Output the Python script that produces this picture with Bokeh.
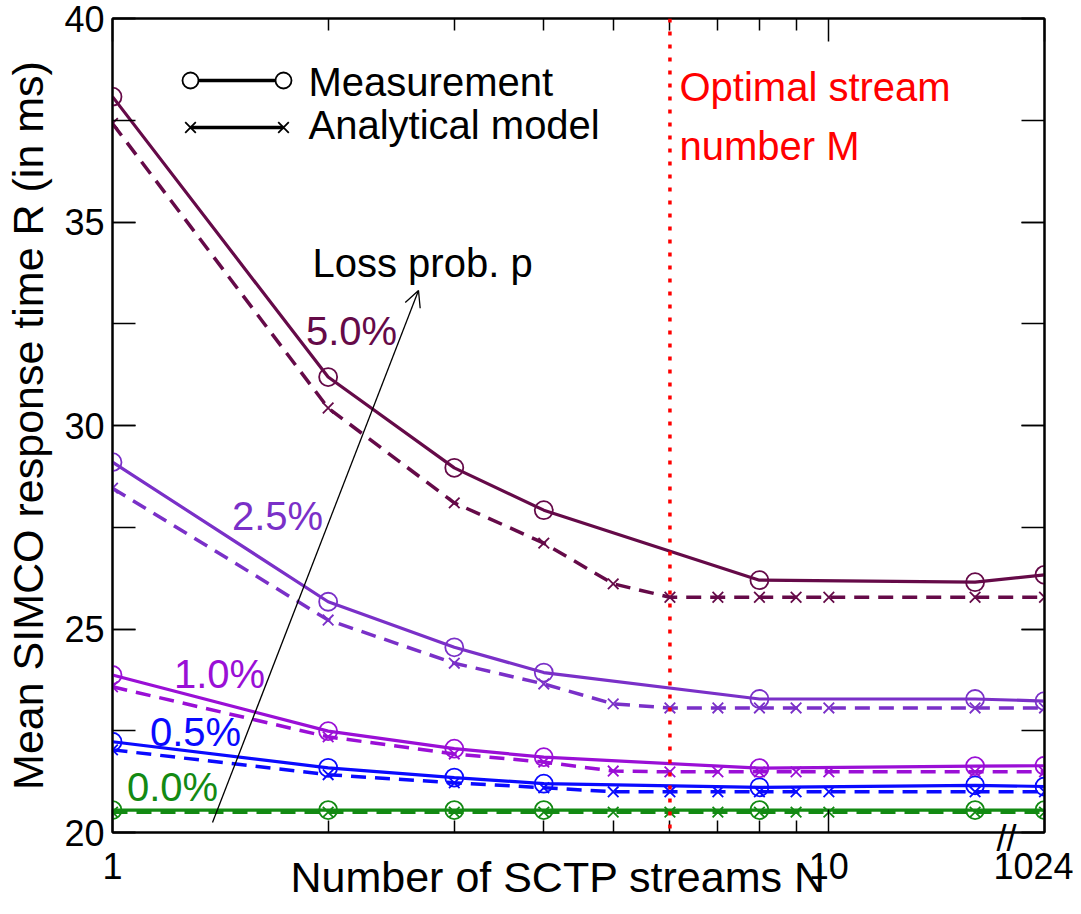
import math
from bokeh.plotting import figure
from bokeh.models import (Range1d, FixedTicker, SingleIntervalTicker, LinearAxis, LogAxis,
                          Span, Label, Arrow, OpenHead, Title)
from bokeh.embed import file_html
from bokeh.resources import INLINE

# ---------------- data ----------------
meas_N = [1, 2, 3, 4, 8, 16, 1024]
model_N = [1, 2, 3, 4, 5, 6, 7, 8, 9, 10, 16, 1024]

loss_labels = ["0.0%", "0.5%", "1.0%", "2.5%", "5.0%"]
colors = ["#138a13", "#0a0aff", "#9a0fd6", "#7a30c8", "#650a48"]

meas_00 = [20.55, 20.55, 20.55, 20.55, 20.55, 20.55, 20.55]
model_00 = [20.50, 20.50, 20.50, 20.50, 20.50, 20.50, 20.50, 20.50, 20.50, 20.50, 20.50, 20.50]
meas_05 = [22.23, 21.59, 21.35, 21.20, 21.11, 21.16, 21.13]
model_05 = [22.03, 21.42, 21.22, 21.10, 21.00, 21.00, 21.00, 21.00, 21.00, 21.00, 21.00, 21.00]
meas_10 = [23.87, 22.49, 22.06, 21.85, 21.58, 21.63, 21.64]
model_10 = [23.58, 22.35, 21.93, 21.73, 21.51, 21.49, 21.49, 21.49, 21.49, 21.49, 21.49, 21.49]
meas_25 = [29.10, 25.67, 24.55, 23.93, 23.28, 23.28, 23.23]
model_25 = [28.46, 25.22, 24.16, 23.65, 23.16, 23.06, 23.06, 23.06, 23.06, 23.06, 23.06, 23.06]
meas_50 = [38.08, 31.19, 28.96, 27.92, 26.20, 26.15, 26.33]
model_50 = [37.42, 30.43, 28.10, 27.11, 26.11, 25.78, 25.78, 25.78, 25.78, 25.78, 25.78, 25.78]

meas_series = [meas_00, meas_05, meas_10, meas_25, meas_50]
model_series = [model_00, model_05, model_10, model_25, model_50]

M_OPT = 6
x_tick_values = [1, 10, 1024]
x_tick_labels = ["1", "10", "1024"]
x_minor = [2, 3, 4, 5, 6, 7, 8, 9]

# ---------------- layout helpers ----------------
BREAK_POS = 20.0          # display position of N=1024 (broken axis)
X_MAX = 20.0
FRAME_L, FRAME_T, FRAME_W, FRAME_H = 112, 18, 932, 814   # reference pixels


def xpos(n):
    return n if n <= 16 else BREAK_POS


def px_x(px):
    return 10 ** ((px - FRAME_L) / FRAME_W * math.log10(X_MAX))


def px_y(py):
    return 40 - (py - FRAME_T) / FRAME_H * 20


FONT = "Liberation Sans"

p = figure(x_axis_type="log", x_range=Range1d(1, X_MAX), y_range=Range1d(20, 40),
           frame_width=FRAME_W, frame_height=FRAME_H,
           min_border_left=FRAME_L, min_border_top=FRAME_T,
           min_border_right=29, min_border_bottom=80,
           output_backend="svg", toolbar_location=None)
p.grid.visible = False
p.outline_line_color = "black"
p.outline_line_width = 2
p.background_fill_color = "white"
p.border_fill_color = "white"

xt = FixedTicker(ticks=[xpos(v) for v in x_tick_values], minor_ticks=x_minor)
yt = SingleIntervalTicker(interval=5, num_minor_ticks=2)

xa = p.xaxis[0]
xa.ticker = xt
xa.major_label_overrides = {xpos(v): l for v, l in zip(x_tick_values, x_tick_labels)}
ya = p.yaxis[0]
ya.ticker = yt
ya.axis_label = "Mean SIMCO response time R (in ms)"

for ax in (xa, ya):
    ax.axis_line_width = 2
    ax.major_tick_in = 23
    ax.major_tick_out = 0
    ax.major_tick_line_width = 1.5
    ax.minor_tick_line_width = 1.5
    ax.minor_tick_out = 0
    ax.major_label_text_font = FONT
    ax.major_label_text_font_size = "36px"
    ax.major_label_text_color = "black"
    ax.axis_label_text_font = FONT
    ax.axis_label_text_font_size = "43px"
    ax.axis_label_text_font_style = "normal"
    ax.axis_label_text_color = "black"
xa.minor_tick_in = 12
ya.minor_tick_in = 23
xa.major_label_standoff = 20
ya.major_label_standoff = 8
ya.axis_label_standoff = 9

top = LogAxis(ticker=xt, major_tick_in=23, major_tick_out=0, minor_tick_in=12, minor_tick_out=0,
              major_label_text_font_size="1px", major_label_text_color=None, major_label_standoff=0,
              axis_line_width=2, major_tick_line_width=1.5, minor_tick_line_width=1.5)
right = LinearAxis(ticker=yt, major_tick_in=23, major_tick_out=0, minor_tick_in=23, minor_tick_out=0,
                   major_label_text_font_size="1px", major_label_text_color=None, major_label_standoff=0,
                   axis_line_width=2, major_tick_line_width=1.5, minor_tick_line_width=1.5)
p.add_layout(top, "above")
p.add_layout(right, "right")

# x-axis title, placed as in the reference (left of the frame centre)
xtitle = Title(text="Number of SCTP streams N", align="left", offset=178, vertical_align="top",
               standoff=-58, text_font=FONT, text_font_size="43px", text_font_style="normal",
               text_color="black")
# axis-break marker: last panel, pulled up so that it crosses the axis line
brk = Title(text="//", align="left", offset=884, vertical_align="top", standoff=-128,
            text_font=FONT, text_font_size="36px", text_font_style="normal", text_color="black")
p.below = list(p.below) + [xtitle, brk]

# optimal stream line
p.add_layout(Span(location=M_OPT, dimension="height", line_color="red",
                  line_dash="4 9", line_width=3.5))

# series
mx = [xpos(n) for n in meas_N]
ax_ = [xpos(n) for n in model_N]
for col, ms, md in zip(colors, meas_series, model_series):
    p.line(ax_, md, line_color=col, line_width=3.5, line_dash="15 9")
    p.scatter(ax_, md, marker="x", size=15, line_color=col, line_width=1.8)
    p.line(mx, ms, line_color=col, line_width=3.2)
    p.scatter(mx, ms, marker="circle", size=18, fill_color=None, line_color=col, line_width=1.8)

# series labels
label_pos = [(172, 786), (195, 731), (219, 673), (277, 515), (351, 330)]
for txt, col, (lx, ly) in zip(loss_labels, colors, label_pos):
    p.add_layout(Label(x=px_x(lx), y=px_y(ly), text=txt, text_color=col, text_font=FONT,
                       text_font_size="40px", text_align="center", text_baseline="middle"))

# legend (drawn by hand: markers at both ends of the key line)
lg_x = [px_x(190), px_x(283)]
p.line(lg_x, [px_y(80)] * 2, line_color="black", line_width=3.5)
p.scatter(lg_x, [px_y(80)] * 2, marker="circle", size=16, fill_color="white", line_color="black", line_width=1.8)
p.line(lg_x, [px_y(127)] * 2, line_color="black", line_width=3.5)
p.scatter(lg_x, [px_y(127)] * 2, marker="x", size=15, line_color="black", line_width=1.8)
p.add_layout(Label(x=px_x(308), y=px_y(81), text="Measurement", text_font=FONT, text_font_size="40px",
                   text_color="black", text_baseline="middle"))
p.add_layout(Label(x=px_x(308), y=px_y(124), text="Analytical model", text_font=FONT, text_font_size="40px",
                   text_color="black", text_baseline="middle"))

# loss probability arrow
p.add_layout(Arrow(end=OpenHead(size=16, line_width=1.3, line_color="black"),
                   x_start=px_x(212), y_start=px_y(822), x_end=px_x(418), y_end=px_y(290),
                   line_width=1.3, line_color="black"))
p.add_layout(Label(x=px_x(312), y=px_y(262), text="Loss prob. p", text_font=FONT, text_font_size="40px",
                   text_color="black", text_baseline="middle"))

# optimal stream text
p.add_layout(Label(x=px_x(679), y=px_y(86), text="Optimal stream", text_font=FONT, text_font_size="40px",
                   text_color="red", text_baseline="middle"))
p.add_layout(Label(x=px_x(679), y=px_y(145), text="number M", text_font=FONT, text_font_size="40px",
                   text_color="red", text_baseline="middle"))

open("out.html", "w").write(file_html(p, INLINE))
